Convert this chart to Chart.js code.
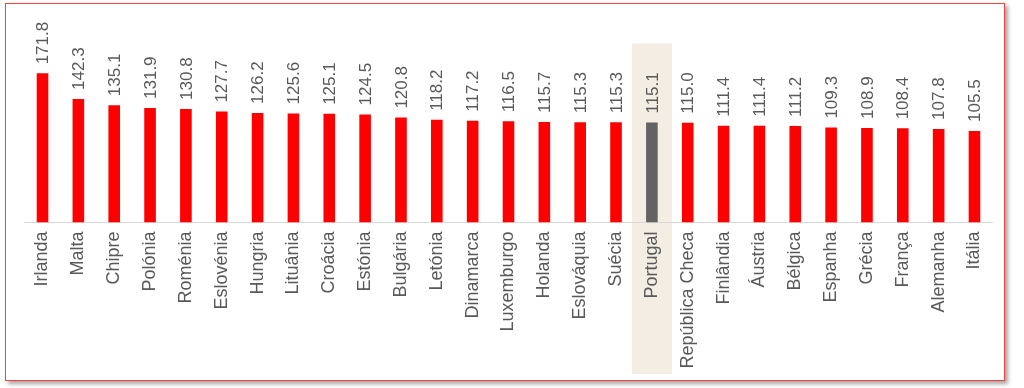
<!DOCTYPE html>
<html>
<head>
<meta charset="utf-8">
<script src="https://cdn.jsdelivr.net/npm/chart.js@4"></script>
<style>
  html, body { margin: 0; padding: 0; background: #fff; }
  #frame {
    position: absolute; left: 5px; top: 3px;
    width: 1000px; height: 378px; box-sizing: border-box;
    border: 1px solid #ff4040;
    box-shadow: 3px 3px 4px rgba(0,0,0,0.35);
    background: #fff;
  }
  #wrap { position: absolute; left: 0; top: 0; width: 998px; height: 376px; }
</style>
</head>
<body>
<div id="frame"><div id="wrap"><canvas id="myChart"></canvas></div></div>
<script>
// categories and values
const countries = ['Irlanda', 'Malta', 'Chipre', 'Polónia', 'Roménia', 'Eslovénia', 'Hungria', 'Lituânia',
  'Croácia', 'Estónia', 'Bulgária', 'Letónia', 'Dinamarca', 'Luxemburgo', 'Holanda', 'Eslováquia',
  'Suécia', 'Portugal', 'República Checa', 'Finlândia', 'Áustria', 'Bélgica', 'Espanha', 'Grécia',
  'França', 'Alemanha', 'Itália'];
const values = [171.8, 142.3, 135.1, 131.9, 130.8, 127.7, 126.2, 125.6,
  125.1, 124.5, 120.8, 118.2, 117.2, 116.5, 115.7, 115.3,
  115.3, 115.1, 115.0, 111.4, 111.4, 111.2, 109.3, 108.9,
  108.4, 107.8, 105.5];
const highlight = 'Portugal';

const font = "'Liberation Sans', Arial, sans-serif";
const textColor = '#595959';

const barColors = countries.map(c => c === highlight ? '#636363' : '#ff0000');

// beige band behind the highlighted country
const bandPlugin = {
  id: 'band',
  beforeDraw(chart) {
    const x = chart.scales.x;
    const i = countries.indexOf(highlight);
    if (i < 0) return;
    const cx = x.getPixelForValue(i);
    const top = chart.chartArea.top + 38;
    const bottom = chart.height - 6;
    const ctx = chart.ctx;
    ctx.save();
    ctx.fillStyle = '#f3ede3';
    ctx.fillRect(cx - 20, top, 40, bottom - top);
    ctx.restore();
  }
};

// rotated value labels above bars
const valuePlugin = {
  id: 'values',
  afterDatasetsDraw(chart) {
    const ctx = chart.ctx;
    const meta = chart.getDatasetMeta(0);
    ctx.save();
    ctx.fillStyle = textColor;
    ctx.font = '17px ' + font;
    ctx.textAlign = 'left';
    ctx.textBaseline = 'middle';
    meta.data.forEach((bar, i) => {
      ctx.save();
      ctx.translate(bar.x + 1, bar.y - 9);
      ctx.rotate(-Math.PI / 2);
      ctx.fillText(values[i].toFixed(1), 0, 0);
      ctx.restore();
    });
    ctx.restore();
  }
};

const ctx1 = document.getElementById('myChart').getContext('2d');
new Chart(ctx1, {
  type: 'bar',
  data: {
    labels: countries,
    datasets: [{
      data: values,
      backgroundColor: barColors,
      borderWidth: 0,
      barPercentage: 0.9,
      categoryPercentage: 0.36
    }]
  },
  options: {
    responsive: true,
    maintainAspectRatio: false,
    animation: false,
    layout: { padding: { left: 18.6, right: 11.6, top: 1.5, bottom: 2.5 } },
    plugins: {
      legend: { display: false },
      tooltip: { enabled: false }
    },
    scales: {
      x: {
        grid: { display: false, drawTicks: false },
        border: { display: true, color: '#d9d9d9', width: 1 },
        ticks: {
          color: textColor,
          font: { family: font, size: 18 },
          minRotation: 90,
          maxRotation: 90,
          autoSkip: false,
          padding: 9
        },
        afterFit(scale) {
          scale.paddingLeft = 0;
          scale.paddingRight = 0;
        }
      },
      y: {
        display: false,
        min: 0,
        max: 250
      }
    }
  },
  plugins: [bandPlugin, valuePlugin]
});
</script>
</body>
</html>
